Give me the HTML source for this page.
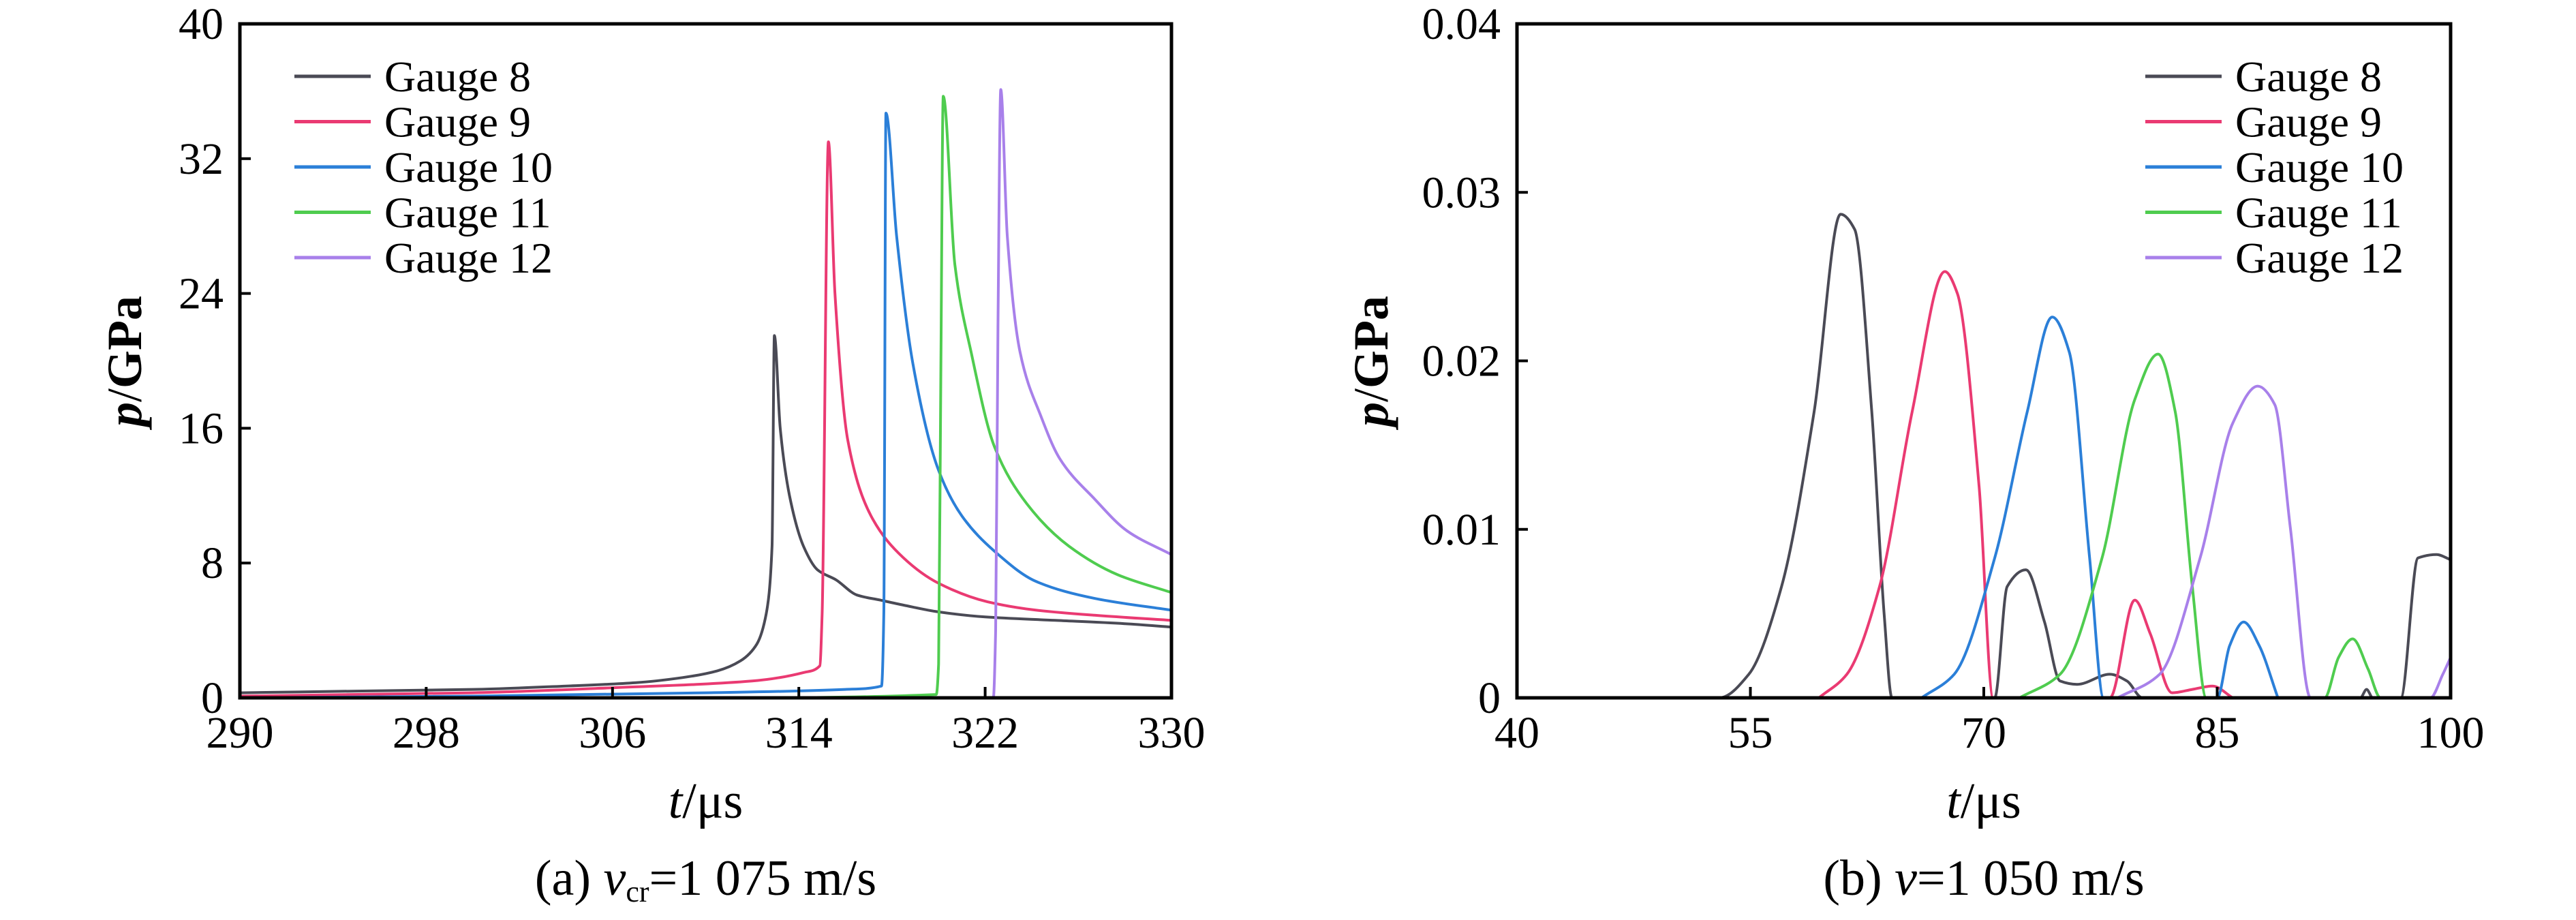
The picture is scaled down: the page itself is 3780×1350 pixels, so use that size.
<!DOCTYPE html>
<html><head><meta charset="utf-8">
<style>
html,body{margin:0;padding:0;background:#fff;}
svg{display:block;font-family:"Liberation Serif",serif;}
</style></head>
<body>
<svg id="fig" width="3780" height="1350" viewBox="0 0 3780 1350" xmlns="http://www.w3.org/2000/svg">
<g id="chartA"></g>
<g id="chartB"></g>
</svg>
<script>
// ---- Chart (a) data ----
const aXTicks = [290, 298, 306, 314, 322, 330];
const aYTicks = [0, 8, 16, 24, 32, 40];
const aNames = ["Gauge 8", "Gauge 9", "Gauge 10", "Gauge 11", "Gauge 12"];
const aT8 = [290,295,300,304,307,309,310.5,311.5,312.2,312.6,312.85,312.95,313.2,313.6,314.2,314.8,315.6,316.5,317.5,318.5,320,322,325,328,330];
const aP8 = [0.3,0.4,0.5,0.7,0.9,1.2,1.6,2.2,3.2,5,9,21.5,16,12,9,7.6,7.0,6.1,5.8,5.5,5.1,4.8,4.6,4.4,4.2];
const aT9 = [290,300,306,312,314.2,314.9,315.0,315.27,315.55,316.1,317.1,318.5,320,322.1,324.2,326.7,330];
const aP9 = [0.1,0.3,0.6,1.0,1.5,1.9,5,33,24,15.3,10.8,8.3,6.8,5.7,5.2,4.9,4.6];
const aT10 = [290,300,310,316,317.55,317.65,317.74,318.2,318.9,320,321,322.4,324.2,326.7,330];
const aP10 = [0.0,0.1,0.3,0.5,0.7,5,34.7,27.4,19.8,13.5,10.8,8.7,6.9,5.9,5.2];
const aT11 = [290,310,319.9,320.0,320.1,320.2,320.7,321.4,322.4,323.8,325.6,327.7,330];
const aP11 = [0,0,0.2,2,20,35.7,25.7,20.5,14.9,11.5,9.0,7.3,6.25];
const aT12 = [290,322.35,322.45,322.55,322.67,322.95,323.5,324.4,325.2,326.7,328.1,330];
const aP12 = [0,0,4,22,36.1,27.4,20.5,16.7,14.2,11.8,9.9,8.5];

// ---- Chart (b) data ----
const bXTicks = [40, 55, 70, 85, 100];
const bYTicks = [0, 0.01, 0.02, 0.03, 0.04];
const bYLabels = ["0", "0.01", "0.02", "0.03", "0.04"];
const bT8 = [40,53.0,54.9,57,59.1,60.8,61.7,62.8,63.6,64.1,70.7,71.5,72.7,73.9,74.9,76.0,78.1,79.2,80.2,94.2,94.6,95.0,96.8,97.9,99.1,100];
const bP8 = [0,0,0.0014,0.0066,0.017,0.0287,0.0278,0.017,0.0049,0,0,0.0066,0.0076,0.0045,0.001,0.0008,0.0014,0.001,0,0,0.0005,0,0,0.0083,0.0085,0.0082];
const bT9 = [59.4,61.2,63.3,65.4,67.5,68.3,69.7,70.6,78.1,79.7,80.7,82.1,83.4,84.7,86.0];
const bP9 = [0,0.0014,0.0066,0.017,0.0253,0.024,0.0125,0,0,0.0058,0.0038,0.0003,0.0005,0.0007,0];
const bT10 = [66.0,68.1,70.7,72.8,74.4,75.5,76.8,77.7,85.0,85.8,86.7,87.7,88.9];
const bP10 = [0,0.0014,0.0083,0.017,0.0226,0.0205,0.0083,0,0,0.0031,0.0045,0.0031,0];
const bT11 = [72.3,74.9,77.6,79.7,81.2,82.3,83.4,84.3,91.9,92.8,93.7,94.7,95.5,100];
const bP11 = [0,0.0014,0.0083,0.0177,0.0204,0.017,0.0066,0,0,0.0024,0.0035,0.0017,0,0];
const bT12 = [78.6,81.3,83.9,86.0,87.6,88.7,89.7,91.0,98.7,99.5,100];
const bP12 = [0,0.0014,0.0083,0.0163,0.0185,0.0174,0.0101,0,0,0.0014,0.0024];

const colors = ["#4a4a55", "#ea3a72", "#2b7fd8", "#4fcc4f", "#a880ea"];
const NS = "http://www.w3.org/2000/svg";
function mk(parent, tag, attrs) {
  const e = document.createElementNS(NS, tag);
  for (const k in attrs) e.setAttribute(k, attrs[k]);
  parent.appendChild(e);
  return e;
}
// monotone cubic (Fritsch-Carlson) path
function monoPath(xs, ys) {
  const n = xs.length;
  const d = [], m = new Array(n);
  for (let i = 0; i < n - 1; i++) d.push((ys[i + 1] - ys[i]) / (xs[i + 1] - xs[i]));
  m[0] = d[0]; m[n - 1] = d[n - 2];
  for (let i = 1; i < n - 1; i++) {
    if (d[i - 1] * d[i] <= 0) m[i] = 0;
    else {
      const h0 = xs[i] - xs[i - 1], h1 = xs[i + 1] - xs[i];
      const w1 = 2 * h1 + h0, w2 = h1 + 2 * h0;
      m[i] = (w1 + w2) / (w1 / d[i - 1] + w2 / d[i]);
    }
  }
  let p = "M" + xs[0].toFixed(1) + " " + ys[0].toFixed(1);
  for (let i = 0; i < n - 1; i++) {
    const h = (xs[i + 1] - xs[i]) / 3;
    p += " C" + (xs[i] + h).toFixed(1) + " " + (ys[i] + m[i] * h).toFixed(1) + " " +
         (xs[i + 1] - h).toFixed(1) + " " + (ys[i + 1] - m[i + 1] * h).toFixed(1) + " " +
         xs[i + 1].toFixed(1) + " " + ys[i + 1].toFixed(1);
  }
  return p;
}

function drawChart(g, cfg) {
  const {L, R, T, B, xmin, xmax, ymin, ymax} = cfg;
  const xs = v => L + (v - xmin) / (xmax - xmin) * (R - L);
  const ys = v => B - (v - ymin) / (ymax - ymin) * (B - T);
  cfg.series.forEach((s, i) => {
    const px = s.t.map(xs), py = s.p.map(ys);
    const p = mk(g, "path", {d: monoPath(px, py), fill: "none", stroke: colors[i], "stroke-width": 4, "stroke-linejoin": "round"});
    
    
  });
  const fr = mk(g, "rect", {x: L, y: T, width: R - L, height: B - T, fill: "none", stroke: "#000", "stroke-width": 5});
  
  
  cfg.xTicks.forEach((v, i) => {
    const x = xs(v);
    if (i > 0 && i < cfg.xTicks.length - 1) {
      const tk = mk(g, "line", {x1: x, x2: x, y1: B, y2: B - 16, stroke: "#000", "stroke-width": 4});
      
      
    }
    const t = mk(g, "text", {x: x, y: B + 73, "font-size": 66, "text-anchor": "middle"});
    t.textContent = String(v);
    
    
  });
  cfg.yTicks.forEach((v, i) => {
    const y = ys(v);
    if (i > 0 && i < cfg.yTicks.length - 1) {
      const tk = mk(g, "line", {x1: L, x2: L + 16, y1: y, y2: y, stroke: "#000", "stroke-width": 4});
      
      
    }
    const t = mk(g, "text", {x: L - 24, y: y + 22, "font-size": 66, "text-anchor": "end"});
    t.textContent = cfg.yLabels[i];
    
    
  });
  cfg.series.forEach((s, i) => {
    const y = cfg.legY + i * 66.5;
    const ln = mk(g, "line", {x1: cfg.legX, x2: cfg.legX + 112, y1: y, y2: y, stroke: colors[i], "stroke-width": 5});
    
    
    const t = mk(g, "text", {x: cfg.legX + 132, y: y + 22, "font-size": 64});
    t.textContent = s.name;
    
    
  });
  const cx = (L + R) / 2;
  const yt = mk(g, "text", {x: 0, y: 0, "font-size": 72, "text-anchor": "middle", transform: "translate(" + (cfg.yTitleX + 25) + " 530) rotate(-90)"});
  yt.innerHTML = '<tspan font-style="italic" font-weight="bold">p</tspan><tspan>/</tspan><tspan font-weight="bold">GPa</tspan>';
  
  
  const xt = mk(g, "text", {x: cx, y: 1200, "font-size": 74, "text-anchor": "middle"});
  xt.innerHTML = '<tspan font-style="italic">t</tspan>/μs';
  
  
  const cap = mk(g, "text", {x: cx, y: 1313, "font-size": 74, "text-anchor": "middle"});
  cap.innerHTML = cfg.caption;
  
  
}

drawChart(document.getElementById("chartA"), {
  L: 352, R: 1719, T: 35, B: 1024, xmin: 290, xmax: 330, ymin: 0, ymax: 40,
  xTicks: aXTicks, yTicks: aYTicks, yLabels: aYTicks.map(String),
  legX: 432, legY: 112, yTitleX: 182,
  caption: '(a) <tspan font-style="italic">v</tspan><tspan font-size="44" dy="10">cr</tspan><tspan dy="-10">=1 075 m/s</tspan>',
  series: [
    {name: aNames[0], t: aT8, p: aP8}, {name: aNames[1], t: aT9, p: aP9},
    {name: aNames[2], t: aT10, p: aP10}, {name: aNames[3], t: aT11, p: aP11},
    {name: aNames[4], t: aT12, p: aP12}]
});
drawChart(document.getElementById("chartB"), {
  L: 2226, R: 3596, T: 35, B: 1024, xmin: 40, xmax: 100, ymin: 0, ymax: 0.04,
  xTicks: bXTicks, yTicks: bYTicks, yLabels: bYLabels,
  legX: 3148, legY: 112, yTitleX: 2011,
  caption: '(b) <tspan font-style="italic">v</tspan>=1 050 m/s',
  series: [
    {name: aNames[0], t: bT8, p: bP8}, {name: aNames[1], t: bT9, p: bP9},
    {name: aNames[2], t: bT10, p: bP10}, {name: aNames[3], t: bT11, p: bP11},
    {name: aNames[4], t: bT12, p: bP12}]
});
</script>
</body></html>
